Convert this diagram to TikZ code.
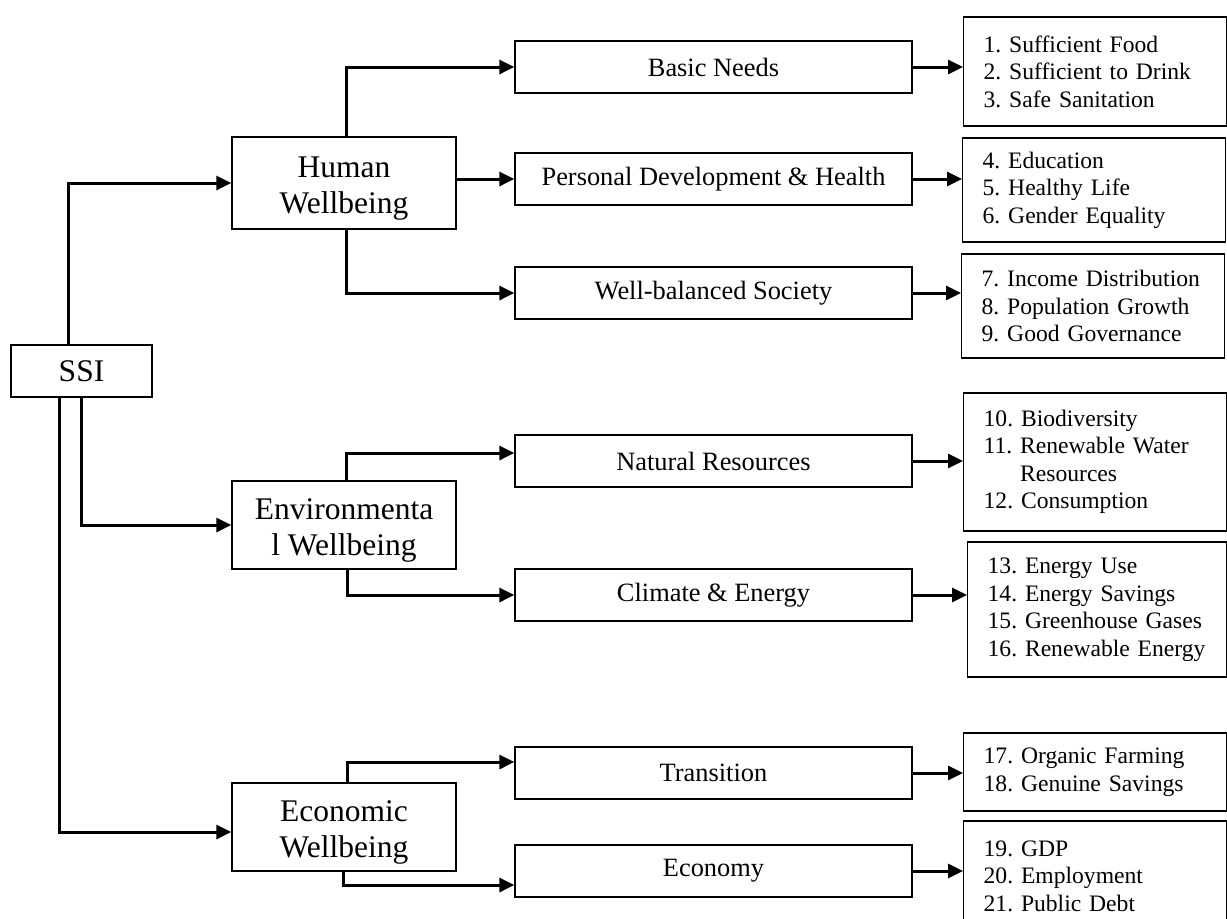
\documentclass[tikz,border=0pt]{standalone}
\usepackage{fontspec}
\setmainfont{Liberation Serif}
\usetikzlibrary{arrows.meta}

\begin{document}
\begin{tikzpicture}[x=0.5pt, y=-0.5pt,
    >={Triangle[length=7.5pt, width=7pt]},
    link/.style={->, line width=1.5pt},
    mainbox/.style={draw, line width=0.65pt, minimum width=112pt, inner sep=0pt, align=center, font=\fontsize{15.75}{18}\selectfont},
    twoline/.style={text height=34pt},
    subbox/.style={draw, line width=0.65pt, minimum width=198.5pt, minimum height=26pt, inner sep=0pt, font=\fontsize{13.2}{15}\selectfont},
    listbox/.style={draw, line width=0.65pt, anchor=west, inner xsep=10pt, inner ysep=0pt, text width=#1, align=left, font=\fontsize{11.8}{13.75}\selectfont},
    listbox/.default=111.5pt]
    \useasboundingbox (0, 0) rectangle (1227, 918);
    % index and the three wellbeing dimensions
    \node[mainbox, minimum width=70.5pt, minimum height=26pt] (ssi) at (81.5, 371) {SSI};
    \node[mainbox, twoline, minimum height=46pt] (human) at (344, 183) {Human\\Wellbeing};
    \node[mainbox, twoline, minimum height=44pt] (env) at (344, 525) {Environmenta\\l Wellbeing};
    \node[mainbox, twoline, minimum height=44pt] (econ) at (344, 827) {Economic\\Wellbeing};
    % categories
    \node[subbox] (basic) at (713.5, 67) {Basic Needs};
    \node[subbox] (personal) at (713.5, 179) {Personal Development \& Health};
    \node[subbox] (society) at (713.5, 293) {Well-balanced Society};
    \node[subbox] (natural) at (713.5, 461) {Natural Resources};
    \node[subbox] (climate) at (713.5, 595) {Climate \& Energy};
    \node[subbox] (transition) at (713.5, 773) {Transition};
    \node[subbox] (economy) at (713.5, 871) {Economy};
    % indicators
    \node[listbox, minimum height=54.5pt] (food) at (963, 71.5) {1.~Sufficient~Food\\2.~Sufficient~to~Drink\\3.~Safe~Sanitation};
    \node[listbox, minimum height=52pt] (educ) at (962, 190) {4.~Education\\5.~Healthy~Life\\6.~Gender~Equality};
    \node[listbox, minimum height=52pt] (income) at (961, 306) {7.~Income~Distribution\\8.~Population~Growth\\9.~Good~Governance};
    \node[listbox, minimum height=69pt] (biodiv) at (963, 462) {10.~Biodiversity\\11.~Renewable~Water\\\phantom{11.~}Resources\\12.~Consumption};
    \node[listbox=109.5pt, minimum height=67.5pt] (energy) at (967, 609.5) {13.~Energy~Use\\14.~Energy~Savings\\15.~Greenhouse~Gases\\16.~Renewable~Energy};
    \node[listbox, minimum height=39pt] (organic) at (963, 772) {17.~Organic~Farming\\18.~Genuine~Savings};
    \node[listbox, minimum height=55pt] (gdp) at (963, 876) {19.~GDP\\20.~Employment\\21.~Public~Debt};

    \draw [link] ([xshift=-6.75pt]ssi.north) |- (human);
    \draw [link] ([xshift=-0.25pt]ssi.south) |- (env);
    \draw [link] ([xshift=-11.25pt]ssi.south) |- ([yshift=-2.5pt]econ.west);

    \draw [link] ([xshift=1pt]human.north) |- (basic);
    \draw [link] (human.east |- personal.west) -- (personal.west);
    \draw [link] ([xshift=1pt]human.south) |- (society);
    \draw [link] ([xshift=1pt]env.north) |- ([yshift=4pt]natural.west);
    \draw [link] ([xshift=1.5pt]env.south) |- (climate);
    \draw [link] ([xshift=1.5pt]econ.north) |- ([yshift=5.5pt]transition.west);
    \draw [link] ([xshift=-0.5pt]econ.south) |- ([yshift=-7pt]economy.west);

    \draw [link] (basic.east) -- (basic.east -| food.west);
    \draw [link] (personal.east) -- (personal.east -| educ.west);
    \draw [link] (society.east) -- (society.east -| income.west);
    \draw [link] (natural.east) -- (natural.east -| biodiv.west);
    \draw [link] (climate.east) -- (climate.east -| energy.west);
    \draw [link] (transition.east) -- (transition.east -| organic.west);
    \draw [link] (economy.east) -- (economy.east -| gdp.west);
\end{tikzpicture}
\end{document}
